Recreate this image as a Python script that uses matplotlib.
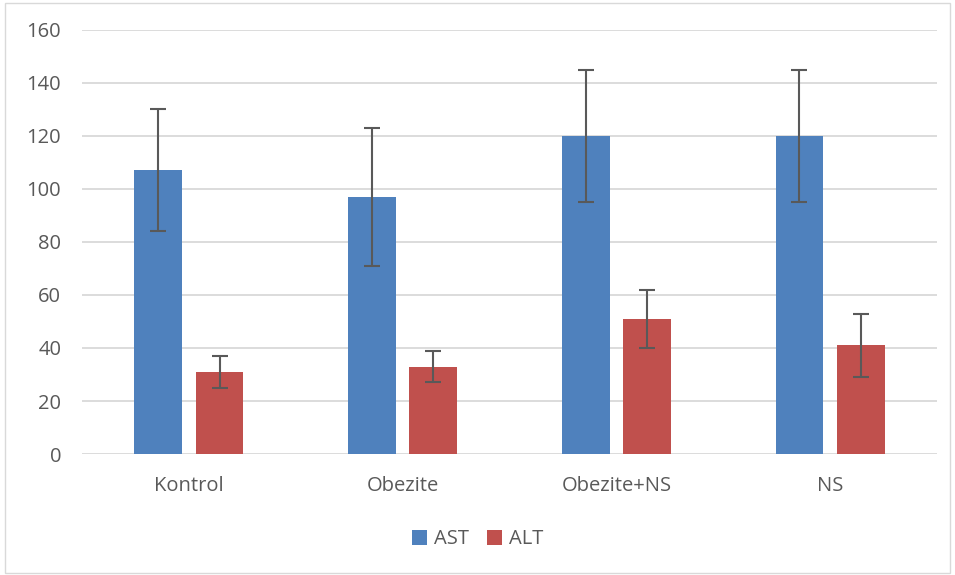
import numpy as np
import matplotlib.pyplot as plt
from matplotlib.patches import Rectangle

# Data
groups = ["Kontrol", "Obezite", "Obezite+NS", "NS"]
ast = [107, 97, 120, 120]
ast_err = [23, 26, 25, 25]
alt = [31, 33, 51, 41]
alt_err = [6, 6, 11, 12]

plt.rcParams["font.family"] = ["Open Sans", "DejaVu Sans"]

fig = plt.figure(figsize=(9.55, 5.75), dpi=100)
ax = fig.add_axes([0.086, 0.2104, 0.895, 0.7376])

x = np.arange(len(groups))
w = 0.224
off = 0.143
err_kw = dict(ecolor="#595959", elinewidth=1.5, capsize=6, capthick=1.5)

ax.bar(x - off, ast, w, yerr=ast_err, color="#4F81BD", label="AST",
       error_kw=err_kw, zorder=3)
ax.bar(x + off, alt, w, yerr=alt_err, color="#C0504D", label="ALT",
       error_kw=err_kw, zorder=3)

ax.set_xlim(-0.5, len(groups) - 0.5)
ax.set_ylim(0, 160)
ax.set_yticks(range(0, 161, 20))
ax.set_xticks(x)
ax.set_xticklabels(groups)
ax.yaxis.grid(True, color="#D9D9D9", linewidth=1.3, zorder=0)
for s in ax.spines.values():
    s.set_visible(False)
ax.tick_params(length=0, labelsize=14.5, colors="#595959")
ax.tick_params(axis="y", pad=15)
ax.tick_params(axis="x", pad=16)

leg = fig.legend(loc="center", bbox_to_anchor=(0.5, 0.062), ncol=2,
                 frameon=False, fontsize=14.5, handlelength=0.75,
                 handleheight=0.75, handletextpad=0.35, columnspacing=0.9)
for t in leg.get_texts():
    t.set_color("#595959")

# outer chart border
fig.patches.append(Rectangle((0.005, 0.004), 0.99, 0.99, transform=fig.transFigure,
                             fill=False, edgecolor="#D9D9D9", linewidth=1))

fig.savefig("out.png", dpi=100)
